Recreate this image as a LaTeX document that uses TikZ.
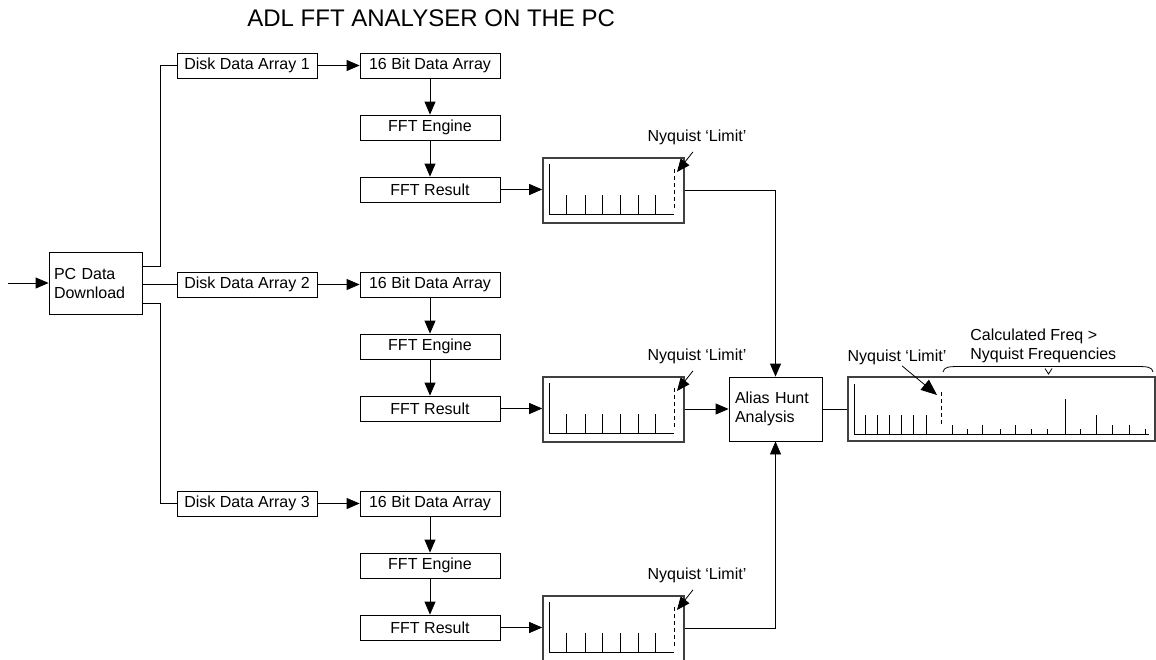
\documentclass[tikz,border=0pt]{standalone}
\usepackage{fontspec}
\setmainfont{Liberation Sans}
\usetikzlibrary{arrows.meta}
\tikzset{
    box/.style={draw, minimum width=140pt, minimum height=25pt, inner sep=0pt},
    rahmen/.style={draw=black!75, line width=1.6pt, inner sep=0pt},
    pfeil/.style={-{Triangle[length=13pt,width=11pt]}},
    lbl/.style={inner sep=1pt}
}

\begin{document}
\begin{tikzpicture}[x=1pt, y=-1pt, line width=0.8pt, font=\fontsize{16}{19}\selectfont]

\clip (0,0) rectangle (1156,659);

% Titel
\node[anchor=west, inner sep=0pt, font=\fontsize{24}{28}\selectfont] (titel) at (247,18) {ADL FFT ANALYSER ON THE PC};

% Eingang
\node[box, minimum width=93pt, minimum height=62pt, text width=83pt, align=left, inner sep=5pt] (pc) at (95.5,283) {PC Data\\Download};
\coordinate (ein) at (8,283);
\draw[pfeil] (ein) -- (pc.west);

% Drei Kanaele
\foreach \i/\T in {1/53,2/272,3/491}{
    \node[box] (disk\i) at (247,\T+12.5) {Disk Data Array \i};
    \node[box] (bit\i) at (430,\T+12.5) {16 Bit Data Array};
    \node[box] (eng\i) at (430,\T+74.5) {FFT Engine};
    \node[box] (res\i) at (430,\T+136.5) {FFT Result};
    \node[rahmen, minimum width=141pt, minimum height=65pt] (spec\i) at (613.5,\T+137.5) {};
    \draw[pfeil] (disk\i) -- (bit\i);
    \draw[pfeil] (bit\i) -- (eng\i);
    \draw[pfeil] (eng\i) -- (res\i);
    \draw[pfeil] (res\i) -- (res\i -| spec\i.west);
    % Spektrum
    \begin{scope}[shift={(spec\i.north west)}]
        \draw (7,7) -- (7,57) -- (132,57);
        \foreach \x in {24,43,60,78,96,113}
            \draw (\x,57) -- (\x,38);
        \draw[dash pattern=on 4pt off 3pt] (132,12) -- (132,53);
    \end{scope}
    % Nyquist-Grenze
    \node[lbl] (nyq\i) at (697,\T+84) {Nyquist ‘Limit’};
    \coordinate (lim\i) at (677,\T+119);
    \draw[pfeil] ([xshift=-4pt,yshift=-6pt]nyq\i.south) -- (lim\i);
}

% Verteilung
\draw ([yshift=17pt]pc.east) -- ++(18,0) |- (disk1.west);
\draw (pc.east |- disk2.west) -- (disk2.west);
\draw ([yshift=-20pt]pc.east) -- ++(18,0) |- (disk3.west);

% Auswertung
\node[box, minimum width=93pt, minimum height=64pt, text width=81pt, align=left, inner sep=6pt] (alias) at (775.5,409) {Alias Hunt\\Analysis};
\draw[pfeil] (spec1.east) -| (alias.north);
\draw[pfeil] (spec2.east |- alias.west) -- (alias.west);
\draw[pfeil] (spec3.east) -| (alias.south);

% Gesamtspektrum
\node[rahmen, minimum width=307pt, minimum height=64pt] (big) at (1001.5,409) {};
\draw (alias) -- (big);
\begin{scope}[shift={(big.north west)}]
    \draw (7,8) -- (7,58) -- (302,58);
    \foreach \x/\s in {18/39,30/39,42/39,54/39,66/39,79/39,105/49,120/53,135/49,153/53,168/49,184/53,200/53,218/23,233/53,249/39,265/49,282/49,298/53}
        \draw (\x,58) -- (\x,\s);
    \draw[dash pattern=on 4pt off 3pt] (94,16) -- (94,50);
\end{scope}

\node[lbl] (nyqG) at (897,357) {Nyquist ‘Limit’};
\coordinate (limG) at (937,395);
\draw[-{Triangle[length=16pt,width=13pt]}] ([xshift=5pt]nyqG.south) -- (limG);

% Klammer
\node[anchor=west, align=left, inner sep=0pt] (calc) at (970,346) {Calculated Freq >\\Nyquist Frequencies};
\draw (943,372) .. controls (944,367) and (948,366.5) .. (960,366.5) -- (1136,366.5) .. controls (1148,366.5) and (1152,367) .. (1153,372);
\draw (1045,368.5) -- (1048.5,374) -- (1052,368.5);

\end{tikzpicture}
\end{document}
